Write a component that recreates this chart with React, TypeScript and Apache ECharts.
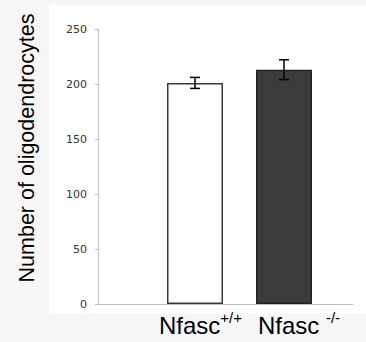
import React, { useEffect, useRef } from 'react';
import * as echarts from 'echarts';

const categories = ['Nfasc+/+', 'Nfasc -/-'];
const meanValues = [201, 213];
const errorValues = [5, 9];
const yTicks = [0, 50, 100, 150, 200, 250];
const yAxisTitle = 'Number of oligodendrocytes';

export default function App() {
  const ref = useRef<HTMLDivElement>(null);
  useEffect(() => {
    const chart = echarts.init(ref.current as HTMLDivElement, null, { renderer: 'svg' });
    const yMin = yTicks[0];
    const yMax = yTicks[yTicks.length - 1];
    const yInterval = yTicks[1] - yTicks[0];
    const option: any = {
      animation: false,
      backgroundColor: '#f6f6f6',
      graphic: [
        { type: 'rect', z: -10, shape: { x: 49, y: 5, width: 317, height: 309 }, style: { fill: '#ffffff' } },
        {
          type: 'text',
          x: 27,
          y: 148,
          rotation: Math.PI / 2,
          style: {
            text: yAxisTitle,
            fontFamily: 'Liberation Sans',
            fontSize: 21.5,
            fill: '#000',
            align: 'center',
            verticalAlign: 'middle',
          },
        },
      ],
      grid: [
        { left: 98, right: 13, top: 29, bottom: 38 },
        { left: 150.5, right: 37.5, top: 29, bottom: 38 },
      ],
      xAxis: [
        {
          gridIndex: 0,
          type: 'category',
          data: [''],
          axisLine: { show: true, lineStyle: { color: '#bfbfbf', width: 1 } },
          axisTick: { show: false },
          axisLabel: { show: false },
        },
        {
          gridIndex: 1,
          type: 'category',
          data: categories,
          axisLine: { show: false },
          axisTick: { show: false },
          axisLabel: {
            interval: 0,
            hideOverlap: false,
            margin: 6,
            formatter: (v: string, i: number) => {
              const m = v.match(/^(\S+?\s?)([+\-]\/[+\-])$/) || ['', v, ''];
              return `{${i === 0 ? 'g1' : 'g2'}| }{n|${m[1]}}{s|${m[2]}}`;
            },
            rich: {
              g1: { width: 11, lineHeight: 30 },
              g2: { width: 30, lineHeight: 30 },
              n: { fontFamily: 'Liberation Sans', fontSize: 24, lineHeight: 30, color: '#000' },
              s: { fontFamily: 'Liberation Sans', fontSize: 15, lineHeight: 15, color: '#000', verticalAlign: 'top' },
            },
          },
        },
      ],
      yAxis: [
        {
          gridIndex: 0,
          type: 'value',
          min: yMin,
          max: yMax,
          interval: yInterval,
          axisLine: { show: true, lineStyle: { color: '#bfbfbf', width: 1 } },
          axisTick: { show: true, length: 3, lineStyle: { color: '#bfbfbf' } },
          splitLine: { show: false },
          axisLabel: { margin: 11, fontFamily: 'DejaVu Sans', fontSize: 11, color: '#333' },
        },
        {
          gridIndex: 1,
          type: 'value',
          min: yMin,
          max: yMax,
          interval: yInterval,
          show: false,
          splitLine: { show: false },
        },
      ],
      series: [
        {
          type: 'bar',
          xAxisIndex: 1,
          yAxisIndex: 1,
          barWidth: 56,
          data: meanValues.map((v, i) => ({
            value: v,
            itemStyle:
              i === 0
                ? { color: '#ffffff', borderColor: '#3a3a3a', borderWidth: 1.5 }
                : { color: '#3c3c3c', borderColor: '#222222', borderWidth: 1.5 },
          })),
        },
        {
          type: 'custom',
          xAxisIndex: 1,
          yAxisIndex: 1,
          z: 5,
          data: meanValues.map((v, i) => [i, v, errorValues[i]]),
          encode: { x: 0, y: 1 },
          renderItem: (params: any, api: any) => {
            const x = api.value(0);
            const m = api.value(1);
            const e = api.value(2);
            const top = api.coord([x, m + e]);
            const bot = api.coord([x, m - e]);
            const hw = 5;
            const style = { stroke: '#000', lineWidth: 1.5 };
            return {
              type: 'group',
              children: [
                { type: 'line', shape: { x1: top[0], y1: top[1], x2: bot[0], y2: bot[1] }, style },
                { type: 'line', shape: { x1: top[0] - hw, y1: top[1], x2: top[0] + hw, y2: top[1] }, style },
                { type: 'line', shape: { x1: bot[0] - hw, y1: bot[1], x2: bot[0] + hw, y2: bot[1] }, style },
              ],
            };
          },
        },
      ],
    };
    chart.setOption(option);
    return () => chart.dispose();
  }, []);
  return <div ref={ref} style={{ position: 'fixed', left: 0, top: 0, width: 366, height: 342 }} />;
}
